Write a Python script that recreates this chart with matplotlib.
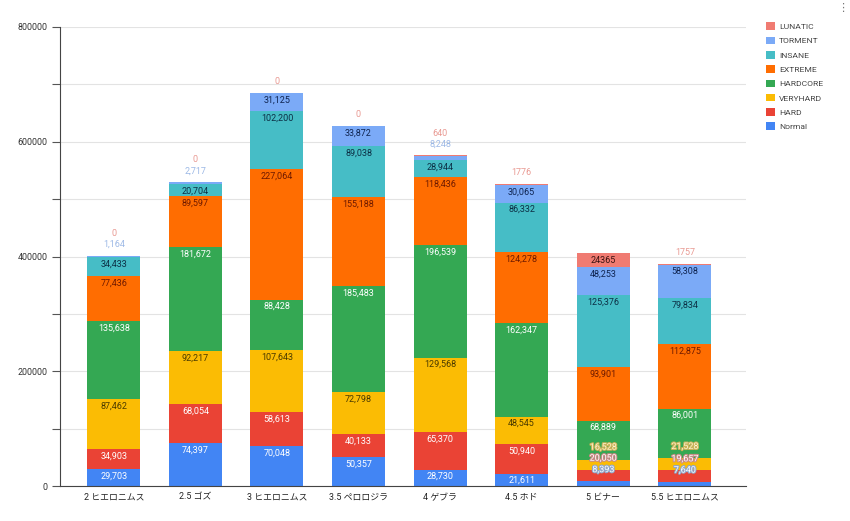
import matplotlib
matplotlib.use("Agg")
import matplotlib.pyplot as plt
import matplotlib.patheffects as pe
from matplotlib.patches import Patch
from matplotlib.ticker import MultipleLocator

plt.rcParams["font.family"] = ["Roboto", "Noto Sans CJK JP", "DejaVu Sans"]

# data
stages = ["2 ヒエロニムス", "2.5 ゴズ", "3 ヒエロニムス", "3.5 ペロロジラ",
          "4 ゲブラ", "4.5 ホド", "5 ビナー", "5.5 ヒエロニムス"]
levels = ["Normal", "HARD", "VERYHARD", "HARDCORE", "EXTREME", "INSANE", "TORMENT", "LUNATIC"]

normal = [29703, 74397, 70048, 50357, 28730, 21611, 8393, 7640]
hard = [34903, 68054, 58613, 40133, 65370, 50940, 20050, 19657]
veryhard = [87462, 92217, 107643, 72798, 129568, 48545, 16528, 21528]
hardcore = [135638, 181672, 88428, 185483, 196539, 162347, 68889, 86001]
extreme = [77436, 89597, 227064, 155188, 118436, 124278, 93901, 112875]
insane = [34433, 20704, 102200, 89038, 28944, 86332, 125376, 79834]
torment = [1164, 2717, 31125, 33872, 8248, 30065, 48253, 58308]
lunatic = [0, 0, 0, 0, 640, 1776, 24365, 1757]

series = [normal, hard, veryhard, hardcore, extreme, insane, torment, lunatic]

colors = ["#4285f4", "#ea4335", "#fbbc04", "#34a853", "#ff6d01", "#46bdc6", "#7baaf7", "#f07b72"]
inner_text = ["#ffffff", "#ffffff", "#4a3a00", "#ffffff", "#6e1a00", "#0c2f45", "#0f2450", "#3a1210"]
outer_text = ["#ffffff", "#ffffff", "#fdf6d0", "#ffffff", "#ff9a55", "#8fd3d8", "#9db9e6", "#e99a93"]
halo = ["#8fa6c8", "#c98a86", "#c9b25a", "#6aa57a", "#ff6d01", "#46bdc6", "#7baaf7", "#f07b72"]


def fmt(v, level):
    if level == "LUNATIC":
        return str(v)
    return f"{v:,}"


fig = plt.figure(figsize=(8.5, 5.21), dpi=100)
ax = fig.add_axes([60 / 850, 35 / 521, 686 / 850, 459 / 521])

x = list(range(len(stages)))
bottoms = [0] * len(stages)
for vals, col in zip(series, colors):
    ax.bar(x, vals, bottom=bottoms, width=0.65, color=col, linewidth=0, zorder=2)
    bottoms = [b + v for b, v in zip(bottoms, vals)]

ax.set_xlim(-0.66, 7.75)
ax.set_ylim(0, 800000)
ax.yaxis.set_major_locator(MultipleLocator(200000))
ax.yaxis.set_minor_locator(MultipleLocator(100000))
ax.grid(axis="y", which="both", color="#e3e3e3", linewidth=0.8, zorder=0)
ax.tick_params(axis="y", which="both", length=6, width=0.8, color="#555555",
               labelsize=6.4, labelcolor="#333333", pad=3)
ax.tick_params(axis="x", length=0, labelsize=6.4, labelcolor="#222222", pad=5)
ax.set_xticks(x)
ax.set_xticklabels(stages)
for side in ["top", "right"]:
    ax.spines[side].set_visible(False)
ax.spines["left"].set_color("#444444")
ax.spines["bottom"].set_color("#444444")
ax.spines["left"].set_linewidth(0.8)
ax.spines["bottom"].set_linewidth(0.8)

# value labels, placed in pixel space like the original
to_px = lambda v: ax.transData.transform((0, v))[1]
to_data = lambda p: ax.transData.inverted().transform((0, p))[1]
fs = 6.5
for i in x:
    base = 0
    last = None
    for k, (vals, level) in enumerate(zip(series, levels)):
        v = vals[i]
        top = base + v
        top_px = to_px(top)
        seg_px = top_px - to_px(base)
        inside_y = top_px - 7
        inside = seg_px >= 11.7 and (last is None or inside_y - last >= 11)
        if inside:
            y = inside_y
            ax.text(i, to_data(y), fmt(v, level), ha="center", va="center",
                    fontsize=fs, color=inner_text[k], zorder=4)
        else:
            y = top_px + 11.5
            if last is not None and y - last < 11:
                y = last + 11
            if k >= 6:
                ax.text(i, to_data(y), fmt(v, level), ha="center", va="center",
                        fontsize=fs, color=outer_text[k], zorder=4)
            else:
                ax.text(i, to_data(y), fmt(v, level), ha="center", va="center",
                        fontsize=fs, color=outer_text[k], zorder=4,
                        path_effects=[pe.withStroke(linewidth=1.5, foreground=halo[k])])
        last = y
        base = top

handles = [Patch(facecolor=c, edgecolor="none") for c in colors]
fig.legend(handles[::-1], levels[::-1], loc="upper left", bbox_to_anchor=(763 / 850, 1 - 19 / 521),
           frameon=False, fontsize=6.1, labelcolor="#444444", handlelength=1.0, handleheight=1.0,
           handletextpad=0.5, labelspacing=0.78, borderaxespad=0)

fig.text(843 / 850, 1 - 8 / 521, "⋮", ha="center", va="center", fontsize=8, color="#777777",
         family=["DejaVu Sans"])

fig.savefig("out.png", dpi=100)
